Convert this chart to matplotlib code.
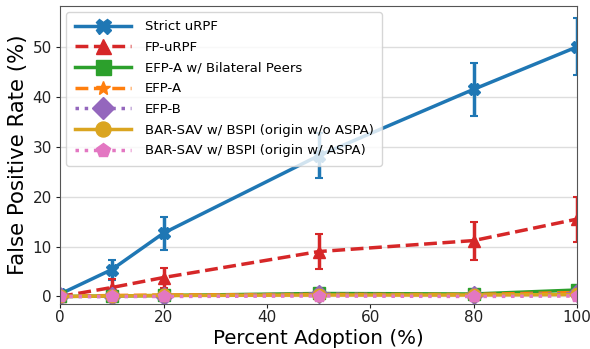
import matplotlib
matplotlib.use("Agg")
import matplotlib.pyplot as plt

adoption = [0, 10, 20, 50, 80, 100]

labels = [
    "Strict uRPF",
    "FP-uRPF",
    "EFP-A w/ Bilateral Peers",
    "EFP-A",
    "EFP-B",
    "BAR-SAV w/ BSPI (origin w/o ASPA)",
    "BAR-SAV w/ BSPI (origin w/ ASPA)",
]

strict_urpf = [0.5, 5.4, 12.7, 28.2, 41.5, 50.0]
strict_urpf_err = [0.3, 2.0, 3.3, 4.5, 5.3, 5.7]
fp_urpf = [0.0, 1.8, 3.8, 9.0, 11.2, 15.5]
fp_urpf_err = [0.1, 1.7, 2.0, 3.5, 3.8, 4.5]
efp_a_bilateral = [0.0, 0.1, 0.2, 0.6, 0.5, 1.3]
efp_a_bilateral_err = [0.0, 0.1, 0.2, 0.3, 0.3, 0.6]
efp_a = [0.0, 0.2, 0.3, 0.4, 0.4, 0.8]
efp_a_err = [0.0, 0.1, 0.2, 0.2, 0.2, 0.4]
efp_b = [0.0, 0.0, 0.1, 0.5, 0.2, 0.6]
efp_b_err = [0.0, 0.0, 0.1, 0.3, 0.2, 0.4]
bar_sav_wo_aspa = [0.0, 0.1, 0.2, 0.3, 0.3, 0.4]
bar_sav_wo_aspa_err = [0.0, 0.1, 0.1, 0.2, 0.2, 0.2]
bar_sav_w_aspa = [0.0, 0.0, 0.0, 0.1, 0.0, 0.1]
bar_sav_w_aspa_err = [0.0, 0.0, 0.0, 0.1, 0.0, 0.1]

series = [strict_urpf, fp_urpf, efp_a_bilateral, efp_a, efp_b,
          bar_sav_wo_aspa, bar_sav_w_aspa]
errors = [strict_urpf_err, fp_urpf_err, efp_a_bilateral_err, efp_a_err,
          efp_b_err, bar_sav_wo_aspa_err, bar_sav_w_aspa_err]

colors = ["#1f77b4", "#d62728", "#2ca02c", "#ff7f0e", "#9467bd",
          "#daa520", "#e377c2"]
markers = ["X", "^", "s", "*", "D", "o", "p"]
styles = ["-", "--", "-", "--", ":", "-", ":"]

fig = plt.figure(figsize=(5.9, 3.49), dpi=100)
ax = fig.add_axes([0.102, 0.129, 0.876, 0.854])

for y, e, lab, c, m, ls in zip(series, errors, labels, colors, markers, styles):
    ax.errorbar(adoption, y, yerr=e, fmt="none", ecolor=c,
                elinewidth=2.5, capsize=3, capthick=1.5)
    ax.plot(adoption, y, label=lab, color=c, marker=m, linestyle=ls,
            linewidth=2.5, markersize=9)

ax.set_xlim(0, 100)
ax.set_ylim(-1.5, 58.2)
ax.set_xticks([0, 20, 40, 60, 80, 100])
ax.set_yticks([0, 10, 20, 30, 40, 50])
ax.tick_params(axis="x", labelsize=11, length=3, pad=1.5, colors="#222222")
ax.tick_params(axis="y", labelsize=11, length=3, pad=3, colors="#222222")
ax.grid(axis="y", color="#dddddd", linewidth=1)
ax.set_axisbelow(True)
for s in ax.spines.values():
    s.set_color("#555555")
ax.set_xlabel("Percent Adoption (%)", fontsize=14.3, labelpad=3)
ax.set_ylabel("False Positive Rate (%)", fontsize=15.3, labelpad=3)

ax.legend(loc="upper left", fontsize=9.5, handlelength=4.3,
          handletextpad=1.0, markerscale=1.2, framealpha=0.8,
          borderpad=0.65, labelspacing=0.58, borderaxespad=0.45)

fig.savefig("out.png", dpi=100)
